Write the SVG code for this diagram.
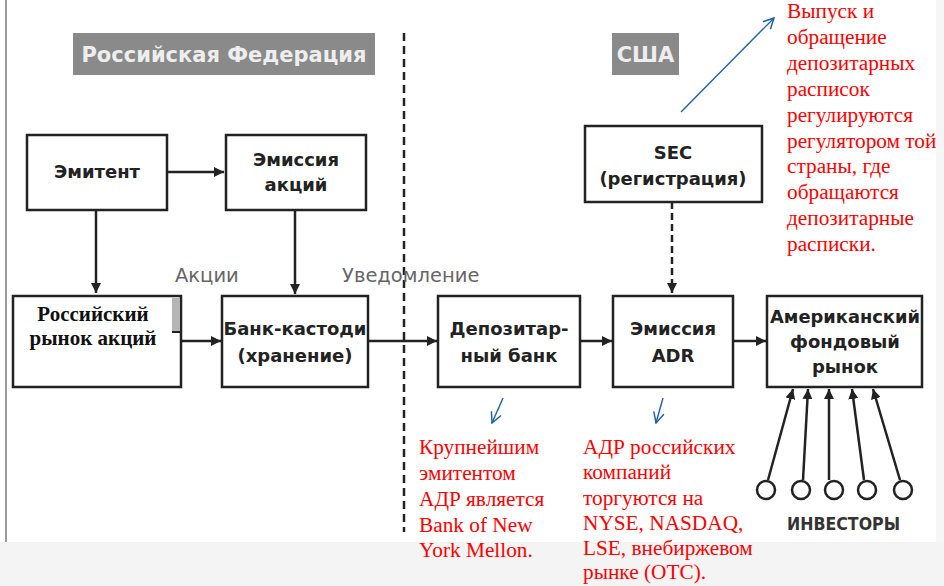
<svg xmlns="http://www.w3.org/2000/svg" width="944" height="586" viewBox="0 0 944 586">
<style>
.box{fill:#fff;stroke:#222;stroke-width:2.5}
.bt{font-family:"DejaVu Sans",sans-serif;font-weight:bold;font-size:18px;fill:#222;text-anchor:middle}
.lbl{font-family:"DejaVu Sans",sans-serif;font-size:19.5px;fill:#666}
.hdr{fill:#8a8a8a}
.ht{font-family:"DejaVu Sans",sans-serif;font-weight:bold;font-size:21px;fill:#eee;text-anchor:middle}
.red{font-family:"Liberation Serif","Times New Roman",serif;font-size:21.3px;fill:#ff0000}
.sr{font-family:"Liberation Serif","Times New Roman",serif;font-weight:bold;font-size:21px;fill:#111;text-anchor:middle}
.ln{stroke:#222;stroke-width:2.5;fill:none}
.dash{stroke:#222;stroke-width:2.5;fill:none;stroke-dasharray:8 5}
.blue{stroke:#1f5fa8;stroke-width:1.4;fill:none}
</style>
<defs>
<marker id="ah" viewBox="0 0 10 10" refX="10" refY="5" markerWidth="4" markerHeight="4" orient="auto" markerUnits="strokeWidth">
<path d="M0,0 L10,5 L0,10 z" fill="#222"/>
</marker>
<marker id="bh" viewBox="0 0 12 12" refX="11" refY="6" markerWidth="9" markerHeight="9" orient="auto" markerUnits="strokeWidth">
<path d="M1,1 L11,6 L1,11" fill="none" stroke="#1f5fa8" stroke-width="1.4"/>
</marker>
</defs>
<rect width="944" height="586" fill="#fff"/>
<rect x="0" y="542" width="944" height="44" fill="#f4f4f4"/>
<rect x="936" y="0" width="8" height="542" fill="#f6f6f6"/>
<line x1="6" y1="0" x2="6" y2="542" stroke="#9a9a9a" stroke-width="2"/>

<g id="hdr-rf"><rect class="hdr" x="73" y="33" width="302" height="42"/><text class="ht" x="224" y="62">Российская Федерация</text></g>
<g id="hdr-usa"><rect class="hdr" x="612" y="33" width="67" height="42"/><text class="ht" x="645.5" y="62">США</text></g>
<line class="dash" x1="404" y1="33" x2="404" y2="532"/>

<g id="connectors">
<line class="ln" x1="167" y1="172" x2="224" y2="172" marker-end="url(#ah)"/>
<line class="ln" x1="96" y1="210" x2="96" y2="293" marker-end="url(#ah)"/>
<line class="ln" x1="295" y1="210" x2="295" y2="294" marker-end="url(#ah)"/>
<line class="ln" x1="181" y1="341" x2="221" y2="341" marker-end="url(#ah)"/>
<line class="ln" x1="368" y1="341" x2="437" y2="341" marker-end="url(#ah)"/>
<line class="ln" x1="581" y1="341" x2="612" y2="341" marker-end="url(#ah)"/>
<line class="ln" x1="734" y1="341" x2="766" y2="341" marker-end="url(#ah)"/>
<line class="ln" x1="672" y1="202" x2="672" y2="293" stroke-dasharray="7 4" marker-end="url(#ah)"/>
<line class="ln" x1="768" y1="480" x2="793" y2="389" marker-end="url(#ah)"/>
<line class="ln" x1="803" y1="480" x2="808" y2="389" marker-end="url(#ah)"/>
<line class="ln" x1="829" y1="480" x2="829" y2="389" marker-end="url(#ah)"/>
<line class="ln" x1="864" y1="480" x2="852" y2="389" marker-end="url(#ah)"/>
<line class="ln" x1="900" y1="480" x2="873" y2="389" marker-end="url(#ah)"/>
<line class="blue" x1="681" y1="112" x2="774" y2="18" marker-end="url(#bh)"/>
<line class="blue" x1="503" y1="398" x2="492" y2="423" marker-end="url(#bh)"/>
<line class="blue" x1="663" y1="398" x2="656" y2="423" marker-end="url(#bh)"/>
<text class="lbl" x="175" y="282">Акции</text>
<text class="lbl" x="342" y="282">Уведомление</text>
</g>

<g id="emitent"><rect class="box" x="27" y="135" width="140" height="75"/><text class="bt" x="97" y="178">Эмитент</text></g>
<g id="emissia"><rect class="box" x="226" y="135" width="140" height="75"/><text class="bt" x="296" y="166">Эмиссия</text><text class="bt" x="296" y="191">акций</text></g>
<g id="rus-market"><rect class="box" x="13" y="296" width="168" height="91"/><rect x="172" y="298" width="8" height="34" fill="#b5b5b5"/><line x1="172" y1="332" x2="181" y2="332" stroke="#222" stroke-width="2"/>
<text class="sr" x="93" y="321">Российский</text>
<text class="sr" x="93" y="345">рынок акций</text></g>
<g id="custody"><rect class="box" x="222" y="296" width="146" height="91"/><text class="bt" x="295" y="335">Банк-кастоди</text><text class="bt" x="295" y="362">(хранение)</text></g>
<g id="dep-bank"><rect class="box" x="438" y="296" width="142" height="91"/><text class="bt" x="509" y="335">Депозитар-</text><text class="bt" x="509" y="362">ный банк</text></g>
<g id="adr"><rect class="box" x="613" y="296" width="120" height="91"/><text class="bt" x="673" y="335">Эмиссия</text><text class="bt" x="673" y="362">ADR</text></g>
<g id="sec"><rect class="box" x="585" y="126" width="177" height="76"/><text class="bt" x="673" y="159">SEC</text><text class="bt" x="673" y="185">(регистрация)</text></g>
<g id="us-market"><rect class="box" x="767" y="296" width="155" height="91"/><text class="bt" x="845" y="323" textLength="150" lengthAdjust="spacingAndGlyphs">Американский</text><text class="bt" x="845" y="348">фондовый</text><text class="bt" x="845" y="373">рынок</text></g>

<g id="investors">
<circle class="ln" cx="766" cy="490" r="9"/>
<circle class="ln" cx="801" cy="490" r="9"/>
<circle class="ln" cx="834" cy="490" r="9"/>
<circle class="ln" cx="867" cy="490" r="9"/>
<circle class="ln" cx="903" cy="490" r="9"/>
<text x="787" y="530" font-family="DejaVu Sans,sans-serif" font-weight="bold" font-size="17px" fill="#333" textLength="113" lengthAdjust="spacingAndGlyphs">ИНВЕСТОРЫ</text>
</g>

<g id="note-reg">
<text class="red" x="787" y="18">Выпуск и</text>
<text class="red" x="787" y="44">обращение</text>
<text class="red" x="787" y="70">депозитарных</text>
<text class="red" x="787" y="96">расписок</text>
<text class="red" x="787" y="122">регулируются</text>
<text class="red" x="787" y="148">регулятором той</text>
<text class="red" x="787" y="173">страны, где</text>
<text class="red" x="787" y="199">обращаются</text>
<text class="red" x="787" y="225">депозитарные</text>
<text class="red" x="787" y="251">расписки.</text>
</g>
<g id="note-bny">
<text class="red" x="419" y="454">Крупнейшим</text>
<text class="red" x="419" y="480">эмитентом</text>
<text class="red" x="419" y="506">АДР является</text>
<text class="red" x="419" y="532">Bank of New</text>
<text class="red" x="419" y="557">York Mellon.</text>
</g>
<g id="note-adr">
<text class="red" x="583" y="454">АДР российских</text>
<text class="red" x="583" y="479">компаний</text>
<text class="red" x="583" y="505">торгуются на</text>
<text class="red" x="583" y="530">NYSE, NASDAQ,</text>
<text class="red" x="583" y="555">LSE, внебиржевом</text>
<text class="red" x="583" y="579">рынке (OTC).</text>
</g>
</svg>
